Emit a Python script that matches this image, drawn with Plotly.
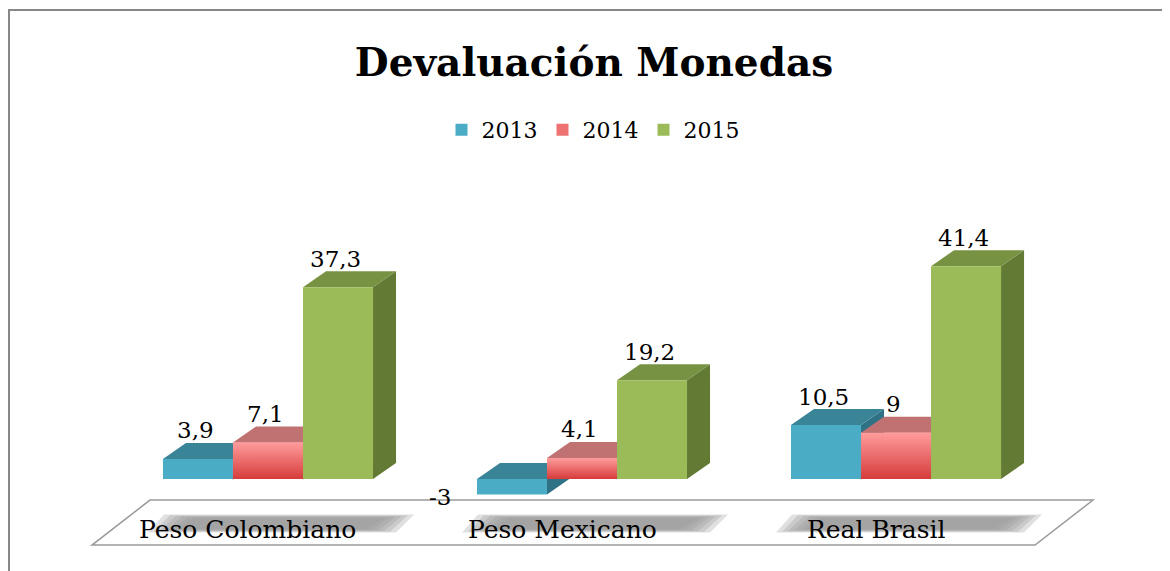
import plotly.graph_objects as go

# ---------------- data ----------------
categories = ["Peso Colombiano", "Peso Mexicano", "Real Brasil"]
series_names = ["2013", "2014", "2015"]
values_2013 = [3.9, -3, 10.5]
values_2014 = [7.1, 4.1, 9]
values_2015 = [37.3, 19.2, 41.4]
title_text = "Devaluación Monedas"

series_values = [values_2013, values_2014, values_2015]

# ---------------- style ----------------
front_colors = ["#4BACC6", "#EE7272", "#9BBB59"]
top_colors = ["#3A8498", "#C07272", "#789243"]
side_colors = ["#2F7185", "#A85A5A", "#637A34"]
red_gradient = [[0, "#D63B3B"], [1, "#FF9C9C"]]
FONT = "DejaVu Serif"

OFF = 8                      # page body margin of the html page
W, H = 1170 - OFF, 571 - OFF
ML, MT = 80 - OFF, 222 - OFF
PW, PH = 1030, 329
MR, MB = W - ML - PW, H - MT - PH
XR = [-0.5987, 2.6815]
YR = [-14, 50]
PXX = PW / (XR[1] - XR[0])   # px per x unit
PXY = PH / (YR[1] - YR[0])   # px per y unit

DEPTH_PX = (23, 16)          # oblique depth offset of bars (px)
DX, DY = DEPTH_PX[0] / PXX, DEPTH_PX[1] / PXY
BARGAP = 0.331
n_series = len(series_names)
BW = (1 - BARGAP) / n_series

cat_pos = list(range(len(categories)))

fig = go.Figure()

# front faces (bars)
for i, name in enumerate(series_names):
    fig.add_trace(go.Bar(
        x=cat_pos, y=series_values[i], name=name,
        marker=dict(color=front_colors[i], line=dict(width=0)),
        hoverinfo="skip",
    ))

shapes = []
annotations = []


def px2paper_x(px):
    return (px - OFF - ML) / PW


def px2paper_y(py):
    return (H - MB - (py - OFF)) / PH


# chart border
shapes.append(dict(type="rect", xref="paper", yref="paper",
                   x0=px2paper_x(OFF + 1), x1=px2paper_x(1190),
                   y0=px2paper_y(600), y1=px2paper_y(10),
                   line=dict(color="#878787", width=2),
                   fillcolor="rgba(0,0,0,0)", layer="below"))

# floor (parallelogram under the categories)
fl_x0, fl_x1 = -0.5605, 2.4427
fl_y = -12.84
fdx, fdy = 58 / PXX, 45 / PXY
shapes.append(dict(
    type="path", xref="x", yref="y", layer="below",
    path=f"M {fl_x0},{fl_y} L {fl_x1},{fl_y} L {fl_x1 + fdx},{fl_y + fdy} "
         f"L {fl_x0 + fdx},{fl_y + fdy} Z",
    fillcolor="white", line=dict(color="#9a9a9a", width=1.5)))

# gray label shadows (soft band built from stacked translucent layers)
band_bottom, band_top = -10.4, -6.9
for c in cat_pos:
    for k in range(6):
        ix = 6 * k / PXX
        iy = 0.7 * k / PXY
        bl = c - 120 / PXX + ix
        tl = c - 104 / PXX + ix
        tr = c + 146 / PXX - ix
        br = c + 128 / PXX - ix
        yb, yt = band_bottom + iy, band_top - iy
        shapes.append(dict(
            type="path", xref="x", yref="y", layer="below",
            path=f"M {bl},{yb} L {tl},{yt} L {tr},{yt} L {br},{yb} Z",
            fillcolor="#999999", opacity=0.3, line=dict(width=0)))

# 3D top and side faces
for c in cat_pos:
    for i in range(n_series):
        v = series_values[i][c]
        x0 = c + (i - (n_series - 1) / 2) * BW - BW / 2
        x1 = x0 + BW
        vt, vb = max(v, 0), min(v, 0)
        shapes.append(dict(
            type="path", xref="x", yref="y", layer="below",
            path=f"M {x1},{vb} L {x1},{vt} L {x1 + DX},{vt + DY} L {x1 + DX},{vb + DY} Z",
            fillcolor=side_colors[i], line=dict(width=0)))
        shapes.append(dict(
            type="path", xref="x", yref="y", layer="below",
            path=f"M {x0},{vt} L {x1},{vt} L {x1 + DX},{vt + DY} L {x0 + DX},{vt + DY} Z",
            fillcolor=top_colors[i], line=dict(width=0)))

        # gradient overlay for the 2014 front faces
        if i == 1:
            fig.add_trace(go.Scatter(
                x=[x0, x1, x1, x0, x0], y=[vb, vb, vt, vt, vb],
                mode="lines", line=dict(width=0), fill="toself",
                fillgradient=dict(type="vertical", colorscale=red_gradient),
                showlegend=False, hoverinfo="skip"))

        # data labels
        label = f"{v:g}".replace(".", ",")
        xc = (x0 + x1) / 2
        if v >= 0:
            annotations.append(dict(x=xc, y=v, xref="x", yref="y", text=label,
                                    showarrow=False, xshift=-2.5, yshift=DEPTH_PX[1] + 12.5,
                                    yanchor="middle",
                                    font=dict(family=FONT, size=23, color="black")))
        else:
            annotations.append(dict(x=xc, y=v, xref="x", yref="y", text=label,
                                    showarrow=False, xshift=-72, yshift=-3,
                                    yanchor="middle",
                                    font=dict(family=FONT, size=23, color="black")))

# category labels
for c, name in zip(cat_pos, categories):
    annotations.append(dict(x=c, y=-9.73, xref="x", yref="y", text=name,
                            showarrow=False, xshift=-20, yanchor="middle",
                            font=dict(family=FONT, size=25, color="black")))

fig.update_layout(
    width=W, height=H,
    margin=dict(l=ML, r=MR, t=MT, b=MB),
    paper_bgcolor="white", plot_bgcolor="white",
    barmode="group", bargap=BARGAP, bargroupgap=0,
    title=dict(text=f"<b>{title_text}</b>", x=(594 - OFF) / W, xanchor="center",
               xref="container", yref="container", y=1 - (62 - OFF) / H, yanchor="middle",
               font=dict(family=FONT, size=39, color="black")),
    legend=dict(orientation="h", xref="container", yref="container",
                x=(593 - OFF) / W, xanchor="center", y=1 - (130 - OFF) / H, yanchor="middle",
                font=dict(family=FONT, size=22, color="black"),
                bgcolor="rgba(0,0,0,0)"),
    xaxis=dict(range=XR, visible=False, type="linear", fixedrange=True),
    yaxis=dict(range=YR, visible=False, fixedrange=True),
    shapes=shapes, annotations=annotations,
    showlegend=True,
)

fig.write_html("out.html")
